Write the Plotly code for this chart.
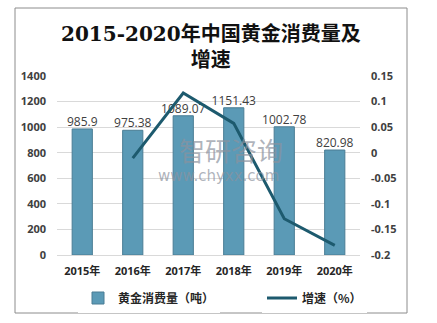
import plotly.graph_objects as go

years = ["2015年", "2016年", "2017年", "2018年", "2019年", "2020年"]
consumption = [985.9, 975.38, 1089.07, 1151.43, 1002.78, 820.98]
growth_years = ["2016年", "2017年", "2018年", "2019年", "2020年"]
growth = [-0.0107, 0.1166, 0.0573, -0.1291, -0.1813]
left_ticks = [0, 200, 400, 600, 800, 1000, 1200, 1400]
right_ticks = [-0.2, -0.15, -0.1, -0.05, 0, 0.05, 0.1, 0.15]
right_ticktext = ["-0.2", "-0.15", "-0.1", "-0.05", "0", "0.05", "0.1", "0.15"]

W, H = 437, 323
L, R, T, B = 57, 77, 76, 68
pw, ph = W - L - R, H - T - B

def px_x(x):
    return (x - L) / pw

def px_y(y):
    return (H - B - y) / ph

tick_font = dict(family="Open Sans, Noto Sans CJK SC, sans-serif", size=11, color="#404040", weight="bold")
legend_font = dict(family="Noto Sans CJK SC, sans-serif", size=12, color="#262626", weight="bold")
wm_color = "rgba(140,146,158,0.7)"

fig = go.Figure()
fig.add_trace(go.Bar(
    x=years, y=consumption, name="黄金消费量（吨）", legend="legend",
    marker=dict(color="#5b9ab6", line=dict(color="#4a7d94", width=1)),
))
fig.add_trace(go.Scatter(
    x=years, y=consumption, mode="text", showlegend=False,
    text=[f"{v:g}" for v in consumption], textposition="top center",
    textfont=dict(family="Open Sans, sans-serif", size=12, color="#404040"),
    cliponaxis=False, hoverinfo="skip",
))
fig.add_trace(go.Scatter(
    x=growth_years, y=growth, name="增速（%）", yaxis="y2", legend="legend2",
    mode="lines", line=dict(color="#1d5a6e", width=3),
))

fig.update_layout(
    width=W, height=H,
    margin=dict(l=L, r=R, t=T, b=B, autoexpand=False),
    paper_bgcolor="white", plot_bgcolor="white",
    bargap=0.6,
    showlegend=True,
    legend=dict(orientation="h", xref="container", yref="container",
                x=78 / W, y=(H - 298) / H, yanchor="middle", xanchor="left",
                font=legend_font, itemwidth=30),
    legend2=dict(orientation="h", xref="container", yref="container",
                 x=262 / W, y=(H - 298) / H, yanchor="middle", xanchor="left",
                 font=legend_font, itemwidth=30),
    xaxis=dict(tickfont=dict(family="Open Sans, Noto Sans CJK SC, sans-serif", size=11, color="#262626", weight="bold"),
               showline=True, linecolor="#d9d9d9", ticks="", ticklabelstandoff=6),
    yaxis=dict(range=[0, 1400], tickvals=left_ticks, showgrid=True, gridcolor="#d9d9d9",
               tickfont=tick_font, zeroline=False, ticklabelstandoff=10),
    yaxis2=dict(range=[-0.2, 0.15], overlaying="y", side="right", tickvals=right_ticks,
                ticktext=right_ticktext, showgrid=False, zeroline=False,
                tickfont=tick_font, ticklabelstandoff=10),
    shapes=[dict(type="rect", xref="paper", yref="paper",
                 x0=px_x(15), x1=px_x(407), y0=px_y(313), y1=px_y(8),
                 line=dict(color="#8c8c8c", width=1), layer="below")],
    annotations=[
        dict(text="2015-2020年中国黄金消费量及<br>增速", xref="paper", yref="paper",
             x=px_x(211), y=px_y(46.5), xanchor="center", yanchor="middle", showarrow=False,
             font=dict(family="DejaVu Serif, Noto Sans CJK SC, serif", size=20, color="#111111", weight="bold")),
        dict(text="智研咨询", xref="paper", yref="paper", x=px_x(231), y=px_y(149),
             xanchor="center", yanchor="middle", showarrow=False,
             font=dict(family="Noto Sans CJK SC, sans-serif", size=26, color=wm_color)),
        dict(text="www.chyxx.com", xref="paper", yref="paper", x=px_x(218), y=px_y(176),
             xanchor="center", yanchor="middle", showarrow=False,
             font=dict(family="DejaVu Sans, sans-serif", size=15, color=wm_color)),
    ],
)

fig.write_html("out.html")
